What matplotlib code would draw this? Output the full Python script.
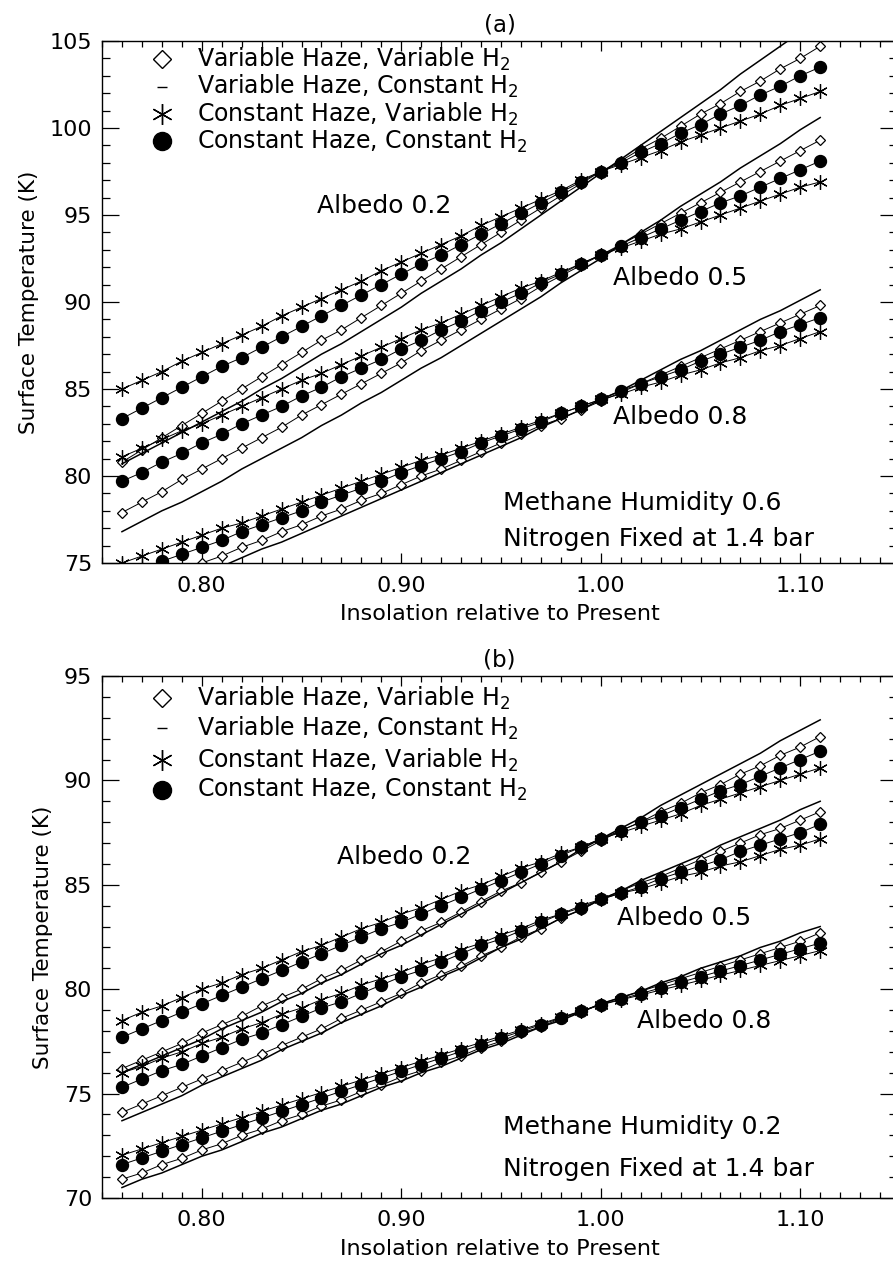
import matplotlib
matplotlib.use("Agg")
import matplotlib.pyplot as plt
import numpy as np
from matplotlib.ticker import MultipleLocator

plt.rcParams["font.family"] = ["DejaVu Sans"]

# insolation relative to present, 0.76 .. 1.11 in steps of 0.01
insolation = np.round(np.arange(76, 112) / 100.0, 2)

series_labels = ["Variable Haze, Variable H$_2$",
                 "Variable Haze, Constant H$_2$",
                 "Constant Haze, Variable H$_2$",
                 "Constant Haze, Constant H$_2$"]

# ---- panel (a): methane humidity 0.6 ----
a_alb02_vv = [80.8, 81.5, 82.2, 82.9, 83.6, 84.3, 85.0, 85.7, 86.4, 87.1, 87.8, 88.4,
              89.1, 89.8, 90.5, 91.2, 91.9, 92.6, 93.3, 94.0, 94.7, 95.4, 96.1, 96.8,
              97.5, 98.1, 98.8, 99.4, 100.1, 100.8, 101.4, 102.1, 102.7, 103.4, 104.0, 104.7]
a_alb02_vc = [80.7, 81.3, 81.9, 82.5, 83.1, 83.7, 84.3, 85.0, 85.6, 86.3, 87.0, 87.6,
              88.3, 89.0, 89.7, 90.5, 91.2, 91.9, 92.7, 93.4, 94.2, 95.0, 95.8, 96.6,
              97.4, 98.2, 99.0, 99.8, 100.6, 101.4, 102.2, 103.1, 103.9, 104.7, 105.5, 106.3]
a_alb02_cv = [85.0, 85.5, 86.0, 86.6, 87.1, 87.6, 88.1, 88.6, 89.2, 89.7, 90.2, 90.7,
              91.2, 91.8, 92.3, 92.8, 93.3, 93.8, 94.4, 94.9, 95.4, 95.9, 96.4, 97.0,
              97.5, 97.9, 98.3, 98.7, 99.2, 99.6, 100.0, 100.4, 100.8, 101.3, 101.7, 102.1]
a_alb02_cc = [83.3, 83.9, 84.5, 85.1, 85.7, 86.3, 86.8, 87.4, 88.0, 88.6, 89.2, 89.8,
              90.4, 91.0, 91.6, 92.2, 92.7, 93.3, 93.9, 94.5, 95.1, 95.7, 96.3, 96.9,
              97.5, 98.0, 98.6, 99.1, 99.7, 100.2, 100.8, 101.3, 101.9, 102.4, 103.0, 103.5]

a_alb05_vv = [77.9, 78.5, 79.1, 79.8, 80.4, 81.0, 81.6, 82.2, 82.8, 83.5, 84.1, 84.7,
              85.3, 85.9, 86.5, 87.2, 87.8, 88.4, 89.0, 89.6, 90.2, 90.9, 91.5, 92.1,
              92.7, 93.3, 93.9, 94.5, 95.1, 95.7, 96.3, 96.9, 97.5, 98.1, 98.7, 99.3]
a_alb05_vc = [76.8, 77.4, 78.0, 78.5, 79.1, 79.7, 80.4, 81.0, 81.6, 82.2, 82.9, 83.5,
              84.2, 84.8, 85.5, 86.2, 86.8, 87.5, 88.2, 88.9, 89.6, 90.3, 91.1, 91.8,
              92.5, 93.3, 94.0, 94.7, 95.5, 96.2, 96.9, 97.7, 98.4, 99.1, 99.9, 100.6]
a_alb05_cv = [81.1, 81.6, 82.1, 82.6, 83.0, 83.5, 84.0, 84.5, 85.0, 85.5, 85.9, 86.4,
              86.9, 87.4, 87.9, 88.4, 88.8, 89.3, 89.8, 90.3, 90.8, 91.2, 91.7, 92.2,
              92.7, 93.1, 93.5, 93.9, 94.2, 94.6, 95.0, 95.4, 95.8, 96.2, 96.6, 96.9]
a_alb05_cc = [79.7, 80.2, 80.8, 81.3, 81.9, 82.4, 83.0, 83.5, 84.0, 84.6, 85.1, 85.7,
              86.2, 86.7, 87.3, 87.8, 88.4, 88.9, 89.5, 90.0, 90.5, 91.1, 91.6, 92.2,
              92.7, 93.2, 93.7, 94.2, 94.7, 95.2, 95.7, 96.1, 96.6, 97.1, 97.6, 98.1]

a_alb08_vv = [73.3, 73.7, 74.1, 74.6, 75.0, 75.4, 75.9, 76.3, 76.8, 77.2, 77.7, 78.1,
              78.6, 79.0, 79.5, 80.0, 80.4, 80.9, 81.4, 81.9, 82.4, 82.9, 83.3, 83.8,
              84.3, 84.8, 85.3, 85.8, 86.3, 86.8, 87.3, 87.8, 88.3, 88.8, 89.3, 89.8]
a_alb08_vc = [72.6, 73.0, 73.5, 73.9, 74.4, 74.8, 75.3, 75.8, 76.2, 76.7, 77.2, 77.7,
              78.2, 78.7, 79.2, 79.7, 80.2, 80.7, 81.2, 81.7, 82.2, 82.8, 83.3, 83.8,
              84.4, 84.9, 85.5, 86.1, 86.7, 87.2, 87.8, 88.4, 89.0, 89.5, 90.1, 90.7]
a_alb08_cv = [75.0, 75.4, 75.8, 76.2, 76.6, 77.0, 77.3, 77.7, 78.1, 78.5, 78.9, 79.3,
              79.7, 80.1, 80.5, 80.9, 81.2, 81.6, 82.0, 82.4, 82.8, 83.2, 83.6, 84.0,
              84.4, 84.7, 85.1, 85.4, 85.8, 86.1, 86.5, 86.8, 87.2, 87.5, 87.9, 88.3]
a_alb08_cc = [74.2, 74.6, 75.1, 75.5, 75.9, 76.3, 76.8, 77.2, 77.6, 78.0, 78.5, 78.9,
              79.3, 79.7, 80.2, 80.6, 81.0, 81.4, 81.9, 82.3, 82.7, 83.1, 83.6, 84.0,
              84.4, 84.9, 85.3, 85.7, 86.1, 86.6, 87.0, 87.4, 87.8, 88.3, 88.7, 89.1]

# ---- panel (b): methane humidity 0.2 ----
b_alb02_vv = [76.2, 76.6, 77.0, 77.4, 77.9, 78.3, 78.7, 79.2, 79.6, 80.0, 80.5, 80.9,
              81.4, 81.8, 82.3, 82.8, 83.2, 83.7, 84.2, 84.7, 85.1, 85.6, 86.1, 86.6,
              87.1, 87.6, 88.0, 88.5, 88.9, 89.4, 89.8, 90.3, 90.7, 91.2, 91.6, 92.1]
b_alb02_vc = [76.0, 76.4, 76.8, 77.2, 77.6, 78.1, 78.5, 78.9, 79.4, 79.8, 80.3, 80.7,
              81.2, 81.7, 82.1, 82.6, 83.1, 83.6, 84.1, 84.6, 85.1, 85.6, 86.1, 86.7,
              87.2, 87.7, 88.2, 88.8, 89.3, 89.8, 90.3, 90.8, 91.3, 91.9, 92.4, 92.9]
b_alb02_cv = [78.5, 78.9, 79.2, 79.6, 80.0, 80.3, 80.7, 81.0, 81.4, 81.8, 82.1, 82.5,
              82.9, 83.2, 83.6, 83.9, 84.3, 84.7, 85.0, 85.4, 85.8, 86.1, 86.5, 86.8,
              87.2, 87.5, 87.8, 88.1, 88.4, 88.8, 89.1, 89.4, 89.7, 90.0, 90.3, 90.6]
b_alb02_cc = [77.7, 78.1, 78.5, 78.9, 79.3, 79.7, 80.1, 80.5, 80.9, 81.3, 81.7, 82.1,
              82.5, 82.9, 83.2, 83.6, 84.0, 84.4, 84.8, 85.2, 85.6, 86.0, 86.4, 86.8,
              87.2, 87.6, 88.0, 88.3, 88.7, 89.1, 89.5, 89.8, 90.2, 90.6, 91.0, 91.4]

b_alb05_vv = [74.1, 74.5, 74.9, 75.3, 75.7, 76.1, 76.5, 76.9, 77.3, 77.7, 78.1, 78.6,
              79.0, 79.4, 79.8, 80.3, 80.7, 81.1, 81.6, 82.0, 82.5, 82.9, 83.4, 83.8,
              84.3, 84.7, 85.1, 85.4, 85.8, 86.2, 86.6, 87.0, 87.4, 87.7, 88.1, 88.5]
b_alb05_vc = [73.7, 74.1, 74.5, 74.9, 75.4, 75.8, 76.2, 76.6, 77.1, 77.5, 77.9, 78.4,
              78.8, 79.2, 79.7, 80.1, 80.6, 81.0, 81.5, 82.0, 82.4, 82.9, 83.4, 83.8,
              84.3, 84.7, 85.2, 85.6, 86.0, 86.4, 86.9, 87.3, 87.7, 88.1, 88.6, 89.0]
b_alb05_cv = [76.0, 76.3, 76.7, 77.0, 77.4, 77.7, 78.1, 78.4, 78.8, 79.1, 79.5, 79.8,
              80.2, 80.5, 80.8, 81.2, 81.5, 81.9, 82.2, 82.6, 82.9, 83.3, 83.6, 84.0,
              84.3, 84.6, 84.8, 85.1, 85.4, 85.6, 85.9, 86.1, 86.4, 86.7, 86.9, 87.2]
b_alb05_cc = [75.3, 75.7, 76.1, 76.4, 76.8, 77.2, 77.6, 77.9, 78.3, 78.7, 79.1, 79.4,
              79.8, 80.2, 80.6, 80.9, 81.3, 81.7, 82.1, 82.4, 82.8, 83.2, 83.6, 83.9,
              84.3, 84.6, 84.9, 85.3, 85.6, 85.9, 86.2, 86.6, 86.9, 87.2, 87.5, 87.9]

b_alb08_vv = [70.9, 71.2, 71.6, 71.9, 72.3, 72.6, 73.0, 73.3, 73.7, 74.0, 74.4, 74.7,
              75.1, 75.4, 75.8, 76.1, 76.5, 76.8, 77.2, 77.5, 77.9, 78.2, 78.6, 78.9,
              79.3, 79.6, 79.9, 80.2, 80.5, 80.8, 81.1, 81.4, 81.7, 82.0, 82.3, 82.7]
b_alb08_vc = [70.5, 70.9, 71.2, 71.6, 72.0, 72.3, 72.7, 73.1, 73.4, 73.8, 74.2, 74.5,
              74.9, 75.3, 75.6, 76.0, 76.3, 76.7, 77.1, 77.4, 77.8, 78.2, 78.5, 78.9,
              79.3, 79.6, 79.9, 80.3, 80.6, 81.0, 81.3, 81.6, 82.0, 82.3, 82.7, 83.0]
b_alb08_cv = [72.05, 72.35, 72.65, 72.95, 73.25, 73.55, 73.85, 74.15, 74.45, 74.75, 75.05, 75.35,
              75.65, 75.95, 76.25, 76.55, 76.85, 77.15, 77.45, 77.75, 78.05, 78.35, 78.65, 78.95,
              79.25, 79.49, 79.72, 79.96, 80.19, 80.43, 80.67, 80.9, 81.14, 81.37, 81.61, 81.85]
b_alb08_cc = [71.6, 71.92, 72.24, 72.56, 72.88, 73.2, 73.51, 73.83, 74.15, 74.47, 74.79, 75.11,
              75.43, 75.75, 76.07, 76.39, 76.7, 77.02, 77.34, 77.66, 77.98, 78.3, 78.62, 78.94,
              79.26, 79.52, 79.79, 80.06, 80.33, 80.6, 80.87, 81.13, 81.4, 81.67, 81.94, 82.21]

panel_a = [(a_alb02_vv, a_alb02_vc, a_alb02_cv, a_alb02_cc),
           (a_alb05_vv, a_alb05_vc, a_alb05_cv, a_alb05_cc),
           (a_alb08_vv, a_alb08_vc, a_alb08_cv, a_alb08_cc)]
panel_b = [(b_alb02_vv, b_alb02_vc, b_alb02_cv, b_alb02_cc),
           (b_alb05_vv, b_alb05_vc, b_alb05_cv, b_alb05_cc),
           (b_alb08_vv, b_alb08_vc, b_alb08_cv, b_alb08_cc)]

# marker style per series: open diamond, plain line, asterisk, filled circle
STAR = (6, 2, 0)
styles = [dict(marker="D", ms=5.6, mfc="white", mec="black", mew=0.9, lw=0.7),
          dict(marker=None, lw=1.1),
          dict(marker=STAR, ms=10.5, mec="black", mew=0.9, lw=0.7),
          dict(marker="o", ms=8.6, mfc="black", mec="black", lw=0.7)]
legend_styles = [dict(marker="D", ms=9, mfc="white", mec="black", mew=1.0),
                 dict(marker="_", ms=7, mec="black", mew=1.0),
                 dict(marker=STAR, ms=15, mec="black", mew=1.0),
                 dict(marker="o", ms=13, mfc="black", mec="black")]

W, H = 893, 1264
X_RIGHT = 897   # right spine sits just past the image edge
fig = plt.figure(figsize=(W / 100, H / 100), dpi=100)

panels = [
    dict(data=panel_a, title="(a)", top=41, ylim=(75, 105),
         humidity="Methane Humidity 0.6",
         albedo_pos=[(0.858, 95.5), (1.006, 91.4), (1.006, 83.4)],
         note_y=(78.45, 76.4), leg_y=[0.9655, 0.9128, 0.8602, 0.8075]),
    dict(data=panel_b, title="(b)", top=676, ylim=(70, 95),
         humidity="Methane Humidity 0.2",
         albedo_pos=[(0.868, 86.35), (1.008, 83.4), (1.018, 78.5)],
         note_y=(73.4, 71.4), leg_y=[0.958, 0.900, 0.839, 0.782]),
]

for p in panels:
    rect = [102 / W, 1 - (p["top"] + 522) / H, (X_RIGHT - 102) / W, 522 / H]
    ax = fig.add_axes(rect)
    for group in p["data"]:
        for vals, st in zip(group, styles):
            ax.plot(insolation, vals, color="black", linestyle="-", **st)

    ax.set_xlim(0.75, 0.75 + (X_RIGHT - 102) / 1995.0)
    ax.set_ylim(*p["ylim"])
    ax.xaxis.set_major_locator(MultipleLocator(0.1))
    ax.xaxis.set_minor_locator(MultipleLocator(0.01))
    ax.yaxis.set_major_locator(MultipleLocator(5))
    ax.yaxis.set_minor_locator(MultipleLocator(1))
    ax.xaxis.set_major_formatter(plt.FuncFormatter(lambda v, _: f"{v:.2f}"))
    ax.tick_params(which="both", direction="in", top=True, right=True,
                   labelsize=16, width=0.9)
    ax.tick_params(axis="y", which="major", length=12, pad=7)
    ax.tick_params(axis="y", which="minor", length=6)
    ax.tick_params(axis="x", which="major", length=7, pad=9)
    ax.tick_params(axis="x", which="minor", length=4.5)
    for s in ax.spines.values():
        s.set_linewidth(1.0)

    ax.set_title(p["title"], fontsize=16.5, pad=7)
    ax.set_xlabel("Insolation relative to Present", fontsize=16, labelpad=6)
    ax.set_ylabel("Surface Temperature (K)", fontsize=15.5, labelpad=8)

    for (xa, ya), lab in zip(p["albedo_pos"], ["Albedo 0.2", "Albedo 0.5", "Albedo 0.8"]):
        ax.text(xa, ya, lab, fontsize=18, ha="left", va="center")
    ax.text(0.951, p["note_y"][0], p["humidity"], fontsize=18, ha="left", va="center")
    ax.text(0.951, p["note_y"][1], "Nitrogen Fixed at 1.4 bar", fontsize=18,
            ha="left", va="center")

    # legend drawn in axes coordinates
    x_mark = (162 - 102) / (X_RIGHT - 102)
    x_text = (197 - 102) / (X_RIGHT - 102)
    for yy, lab, lst in zip(p["leg_y"], series_labels, legend_styles):
        ax.plot([x_mark], [yy], transform=ax.transAxes, linestyle="None",
                clip_on=False, **lst)
        ax.text(x_text, yy, lab, transform=ax.transAxes, fontsize=17,
                ha="left", va="center")

fig.savefig("out.png", dpi=100)
